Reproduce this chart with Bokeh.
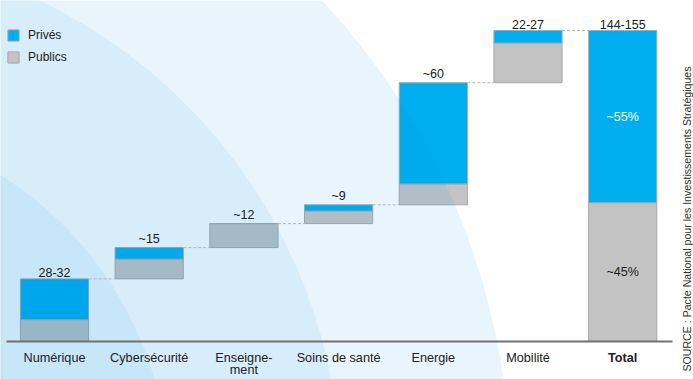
import math
from bokeh.plotting import figure
from bokeh.models import ColumnDataSource, Range1d, Legend, LegendItem
from bokeh.core.properties import value
from bokeh.embed import file_html
from bokeh.resources import INLINE

# ---------------- data ----------------
categories = ["Numérique", "Cybersécurité", "Enseigne-\nment", "Soins de santé",
              "Energie", "Mobilité", "Total"]
prives = [19.5, 5.5, 0.0, 3.0, 48.5, 6.0]          # Mds EUR, private part
publics = [10.5, 9.5, 11.5, 6.0, 10.0, 19.0]       # Mds EUR, public part
value_labels = ["28-32", "~15", "~12", "~9", "~60", "22-27", "144-155"]
share_labels = ["~55%", "~45%"]
legend_labels = ["Privés", "Publics"]
source_text = "SOURCE : Pacte National pour les Investissements Stratégiques"

# ---------------- layout ----------------
W, H = 693, 379
PX0, PITCH = 54.0, 94.7     # pixel centre of first category, category pitch
AXIS_PY, PPU = 341.0, 2.087  # pixel row of zero, pixels per unit
BAR_W = 0.72
FONT = "Liberation Sans"
BLUE, GREY, EDGE = "#00AEEF", "#C3C3C3", "#A9A9A9"

def dx(px):
    return (px - PX0) / PITCH

def dy(py):
    return (AXIS_PY - py) / PPU

# waterfall geometry from the data
xs = list(range(len(categories)))
pub_bot, pub_top, prv_top = [], [], []
cum = 0.0
for pr, pu in zip(prives, publics):
    pub_bot.append(cum)
    pub_top.append(cum + pu)
    prv_top.append(cum + pu + pr)
    cum += pu + pr
tot_pub, tot_prv = sum(publics), sum(prives)
pub_bot.append(0.0)
pub_top.append(tot_pub)
prv_top.append(tot_pub + tot_prv)

src = ColumnDataSource(dict(x=xs, pub_bot=pub_bot, pub_top=pub_top, prv_top=prv_top,
                            cat=categories, lab=value_labels,
                            style=["normal"] * (len(categories) - 1) + ["bold"]))

p = figure(width=W, height=H, x_range=Range1d(dx(0), dx(W)), y_range=Range1d(dy(H), dy(0)),
           output_backend="svg", toolbar_location=None, min_border=0,
           x_axis_location=None, y_axis_location=None,
           background_fill_color="white", border_fill_color="white", outline_line_color=None)
p.grid.visible = False

r_pub = p.vbar(x="x", width=BAR_W, bottom="pub_bot", top="pub_top", source=src,
               fill_color=GREY, line_color=EDGE, line_width=1)
r_prv = p.vbar(x="x", width=BAR_W, bottom="pub_top", top="prv_top", source=src,
               fill_color=BLUE, line_color=EDGE, line_width=1)

# decorative concentric arcs (translucent overlays, drawn as polygons)
CXP, CYP = -190.0, 478.0
for r_px, a in [(700, 0.09), (530, 0.069), (358, 0.074)]:
    n = 240
    ts = [-math.pi / 2 + (math.pi / 2) * k / (n - 1) for k in range(n)]
    px = [CXP] + [CXP + r_px * math.cos(t) for t in ts] + [CXP]
    py = [CYP] + [CYP + r_px * math.sin(t) for t in ts] + [CYP]
    p.patch(x=[dx(v) for v in px], y=[dy(v) for v in py],
            fill_color="#0090DE", fill_alpha=a, line_color=None)

# dashed connectors
x0 = [x + BAR_W / 2 for x in xs[:-1]]
x1 = [x + 1 - BAR_W / 2 for x in xs[:-1]]
p.segment(x0=x0, y0=prv_top[:-1], x1=x1, y1=prv_top[:-1],
          line_color="#B5B5B5", line_width=1, line_dash="3 2")

# baseline
p.segment(x0=[dx(6)], y0=[0], x1=[dx(672)], y1=[0], line_color="#707070", line_width=2)

# value labels
p.text(x="x", y="prv_top", text="lab", source=src, text_align="center",
       text_baseline="bottom", y_offset=-2, text_font=value(FONT),
       text_font_size="12.5px", text_color="#1a1a1a")

# shares inside total bar
p.text(x=[xs[-1], xs[-1]], y=[tot_pub + tot_prv / 2, tot_pub / 2], text=share_labels,
       text_align="center", text_baseline="middle", text_font=value(FONT),
       text_font_size="12.5px", text_color=["white", "#1a1a1a"])

# category labels
p.text(x="x", y=0, text="cat", source=src, text_align="center", text_baseline="top",
       y_offset=9, text_font=value(FONT), text_font_size="12.7px",
       text_font_style="style", text_color="#222222", text_line_height=0.92)

# source (vertical)
p.text(x=[dx(686.5)], y=[dy(371)], text=[source_text], angle=math.pi / 2,
       text_align="left", text_baseline="middle", text_font=value(FONT),
       text_font_size="10.6px", text_color="#333333")

legend = Legend(items=[LegendItem(label=legend_labels[0], renderers=[r_prv]),
                       LegendItem(label=legend_labels[1], renderers=[r_pub])],
                location=(6, 315), margin=0, padding=0, spacing=8,
                glyph_width=14, glyph_height=14, label_height=14, label_standoff=8,
                label_text_font=FONT, label_text_font_size="12px",
                label_text_color="#222222",
                background_fill_alpha=0, border_line_alpha=0)
p.add_layout(legend, "center")

open("out.html", "w").write(file_html(p, INLINE))
